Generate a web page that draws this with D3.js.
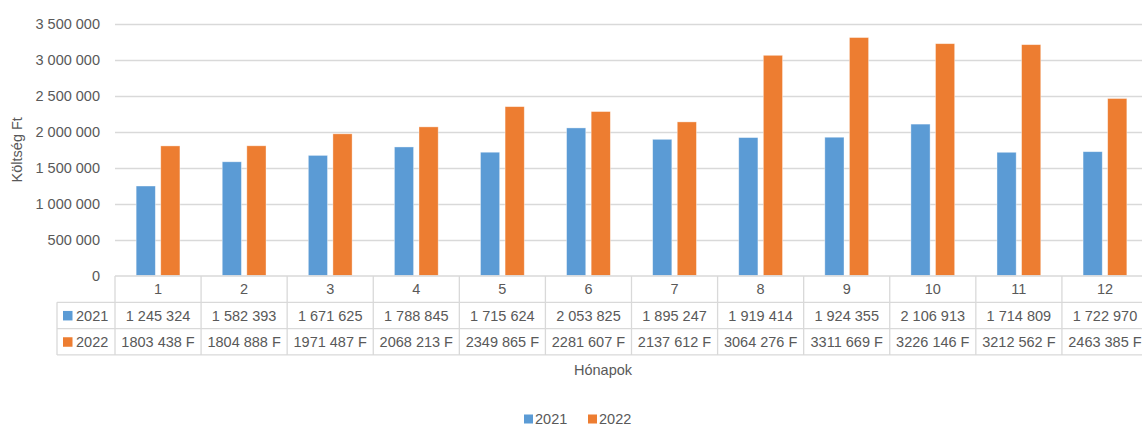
<!DOCTYPE html>
<html>
<head>
<meta charset="utf-8">
<script src="https://cdn.jsdelivr.net/npm/d3@7"></script>
<style>
  body { margin: 0; background: #fff; }
  svg { display: block; font-family: "Liberation Sans", Arial, sans-serif; }
</style>
</head>
<body>
<svg id="chart" width="1142" height="426"></svg>
<script>
// chart data
const months = ["1", "2", "3", "4", "5", "6", "7", "8", "9", "10", "11", "12"];
const seriesNames = ["2021", "2022"];
const values2021 = [1245324, 1582393, 1671625, 1788845, 1715624, 2053825, 1895247, 1919414, 1924355, 2106913, 1714809, 1722970];
const values2022 = [1803438, 1804888, 1971487, 2068213, 2349865, 2281607, 2137612, 3064276, 3311669, 3226146, 3212562, 2463385];
const labels2021 = ["1 245 324", "1 582 393", "1 671 625", "1 788 845", "1 715 624", "2 053 825", "1 895 247", "1 919 414", "1 924 355", "2 106 913", "1 714 809", "1 722 970"];
const labels2022 = ["1803 438 F", "1804 888 F", "1971 487 F", "2068 213 F", "2349 865 F", "2281 607 F", "2137 612 F", "3064 276 F", "3311 669 F", "3226 146 F", "3212 562 F", "2463 385 F"];
const yTicks = [0, 500000, 1000000, 1500000, 2000000, 2500000, 3000000, 3500000];

const colors = { "2021": "#5b9bd5", "2022": "#ed7d31" };
const textColor = "#595959";
const lineColor = "#d9d9d9";
const fontSize = 14.5;

const svg = d3.select("#chart");

const plot = { left: 115, right: 1148, top: 24, bottom: 275.5 };
const rowH = 26.3;
const legendColLeft = 57;

const x = d3.scaleBand().domain(months).range([plot.left, plot.right]).padding(0);
const xs = d3.scaleBand().domain(seriesNames).range([0, x.bandwidth()])
  .paddingInner(0.22).paddingOuter(0.86);
const y = d3.scaleLinear().domain([0, 3500000]).range([plot.bottom, plot.top]);

const fmt = (v) => d3.format(",")(v).replace(/,/g, " ");

// gridlines
svg.append("g")
  .selectAll("line")
  .data(yTicks.filter((d) => d > 0))
  .join("line")
  .attr("x1", plot.left)
  .attr("x2", 1142)
  .attr("y1", (d) => Math.round(y(d)) + 0.5)
  .attr("y2", (d) => Math.round(y(d)) + 0.5)
  .attr("stroke", lineColor)
  .attr("stroke-width", 1.3);

// y tick labels
svg.append("g")
  .selectAll("text")
  .data(yTicks)
  .join("text")
  .attr("x", 100)
  .attr("y", (d) => y(d))
  .attr("dy", "0.35em")
  .attr("text-anchor", "end")
  .attr("font-size", fontSize)
  .attr("fill", textColor)
  .text(fmt);

// bars
const rows = months.map((m, i) => ({ month: m, "2021": values2021[i], "2022": values2022[i] }));
svg.append("g")
  .selectAll("g")
  .data(rows)
  .join("g")
  .attr("transform", (d) => `translate(${x(d.month)},0)`)
  .selectAll("rect")
  .data((d) => seriesNames.map((s) => ({ key: s, value: d[s] })))
  .join("rect")
  .attr("x", (d) => xs(d.key))
  .attr("y", (d) => y(d.value))
  .attr("width", xs.bandwidth())
  .attr("height", (d) => y(0) - y(d.value))
  .attr("fill", (d) => colors[d.key])
  .attr("stroke", "#fff")
  .attr("stroke-opacity", 0.5)
  .attr("stroke-width", 0.75);

// data table
const tableTop = plot.bottom + 0.5;
const table = svg.append("g").attr("stroke", lineColor).attr("stroke-width", 1.3);
const tableRight = 1142;

// horizontal lines
table.append("line").attr("x1", plot.left).attr("x2", tableRight).attr("y1", tableTop).attr("y2", tableTop);
[1, 2, 3].forEach((r) => {
  table.append("line")
    .attr("x1", legendColLeft).attr("x2", tableRight)
    .attr("y1", tableTop + r * rowH).attr("y2", tableTop + r * rowH);
});
// vertical lines
table.append("line").attr("x1", legendColLeft).attr("x2", legendColLeft)
  .attr("y1", tableTop + rowH).attr("y2", tableTop + 3 * rowH);
table.selectAll("line.col")
  .data(months)
  .join("line")
  .attr("class", "col")
  .attr("x1", (d) => x(d))
  .attr("x2", (d) => x(d))
  .attr("y1", tableTop)
  .attr("y2", tableTop + 3 * rowH);

const cellText = (row, labels) => {
  svg.append("g")
    .selectAll("text")
    .data(months)
    .join("text")
    .attr("x", (d) => x(d) + x.bandwidth() / 2)
    .attr("y", tableTop + row * rowH + rowH / 2)
    .attr("dy", "0.35em")
    .attr("text-anchor", "middle")
    .attr("font-size", fontSize)
    .attr("fill", textColor)
    .text((d, i) => labels[i]);
};
cellText(0, months);
cellText(1, labels2021);
cellText(2, labels2022);

// series keys in table
seriesNames.forEach((s, i) => {
  const cy = tableTop + (i + 1) * rowH + rowH / 2;
  svg.append("rect")
    .attr("x", 63).attr("y", cy - 4.5)
    .attr("width", 9.5).attr("height", 9.5)
    .attr("fill", colors[s]);
  svg.append("text")
    .attr("x", 76).attr("y", cy)
    .attr("dy", "0.35em")
    .attr("font-size", fontSize)
    .attr("fill", textColor)
    .text(s);
});

// axis titles
svg.append("text")
  .attr("transform", `translate(22,${(plot.top + plot.bottom) / 2}) rotate(-90)`)
  .attr("text-anchor", "middle")
  .attr("font-size", fontSize)
  .attr("fill", textColor)
  .text("Költség Ft");

svg.append("text")
  .attr("x", 603)
  .attr("y", 370)
  .attr("dy", "0.35em")
  .attr("text-anchor", "middle")
  .attr("font-size", fontSize)
  .attr("fill", textColor)
  .text("Hónapok");

// legend
const legend = svg.append("g").attr("transform", "translate(524,419)");
const legendItems = legend.selectAll("g")
  .data(seriesNames)
  .join("g")
  .attr("transform", (d, i) => `translate(${i * 64},0)`);
legendItems.append("rect")
  .attr("x", 0).attr("y", -4.5)
  .attr("width", 9).attr("height", 9)
  .attr("fill", (d) => colors[d]);
legendItems.append("text")
  .attr("x", 11).attr("dy", "0.35em")
  .attr("font-size", fontSize)
  .attr("fill", textColor)
  .text((d) => d);
</script>
</body>
</html>
